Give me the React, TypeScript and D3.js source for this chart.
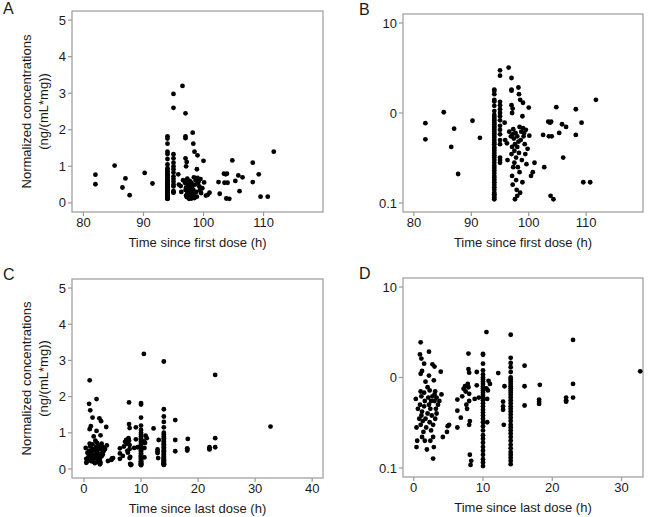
import React from "react";
import * as d3 from "d3";

// ---------- Data: time since first dose (panels A, B) ----------
const firstIsolated: [number, number][] = [
  [82, 0.77], [82, 0.51], [85.2, 1.02], [86.5, 0.42], [87, 0.67], [87.7, 0.21],
  [90.2, 0.82], [91.5, 0.53],
];
const firstCol94: number[] = [
  1.82, 1.76, 1.62, 1.4, 1.34, 1.2, 1.05, 0.95, 0.9, 0.86, 0.82, 0.78, 0.75, 0.71,
  0.68, 0.65, 0.62, 0.59, 0.56, 0.53, 0.5, 0.47, 0.45, 0.42, 0.4, 0.38, 0.36, 0.34,
  0.32, 0.3, 0.28, 0.26, 0.245, 0.23, 0.215, 0.2, 0.19, 0.18, 0.17, 0.16, 0.15,
  0.14, 0.13, 0.125, 0.12, 0.115, 0.11,
];
const firstCol95: number[] = [
  2.98, 2.6, 1.33, 1.22, 1.1, 1.0, 0.92, 0.83, 0.72, 0.65, 0.58, 0.5, 0.45, 0.32, 0.3, 0.28,
];
const firstCluster: [number, number][] = [
  [95.8, 0.78], [95.9, 0.5], [96.2, 0.46], [96.3, 0.3], [96.5, 3.2], [96.6, 0.62],
  [97, 2.45], [97, 1.82], [97, 1.77], [97, 1.22], [97.2, 1.12], [97.1, 1.0],
  [97.3, 0.66], [97.2, 0.58], [97.1, 0.42], [97.0, 0.35], [97.1, 0.2], [97.2, 0.16],
  [97.4, 0.52], [97.5, 0.38], [97.5, 0.28], [97.6, 0.45], [97.7, 0.6], [97.8, 0.32],
  [97.8, 0.18], [97.9, 0.14], [98.0, 0.55], [98.0, 0.42], [98.1, 0.25], [98.2, 1.92],
  [98.3, 1.62], [98.5, 1.4], [98.4, 0.7], [98.3, 0.36], [98.4, 0.22], [98.5, 0.13],
  [98.6, 0.5], [98.7, 0.62], [98.8, 0.3], [98.9, 0.92], [99, 1.3], [99.0, 0.68],
  [99.1, 0.55], [99.2, 0.6], [99.3, 0.45], [99.4, 0.35], [99.5, 0.65], [99.6, 0.27],
  [100, 1.15], [100.1, 0.56], [100.4, 0.2], [100.7, 0.22], [101, 0.28], [98.0, 0.12],
  [97.6, 0.11], [98.9, 0.17], [99.8, 0.4], [97.3, 0.25], [98.2, 0.48], [96.9, 0.55],
];
const firstLate: [number, number][] = [
  [102.5, 0.57], [102.7, 0.25], [103.4, 0.8], [103.7, 0.78], [103.9, 0.8], [103.5, 0.55],
  [104, 0.55], [103.8, 0.12], [104.3, 0.11], [104.8, 1.16], [105.3, 0.6], [105.8, 0.75],
  [106, 0.32], [106.5, 0.7], [108.2, 1.1], [108.2, 0.57], [109.2, 0.78], [109.5, 0.17],
  [110.7, 0.17], [111.7, 1.4],
];

// ---------- Data: time since last dose (panels C, D) ----------
const lastEarly: [number, number][] = [
  [0.3, 0.58], [0.4, 0.28], [0.4, 0.17], [0.6, 0.45], [0.8, 0.35], [1.0, 2.45],
  [0.9, 1.8], [1.1, 1.62], [1.0, 1.1], [1.2, 1.18], [1.0, 0.7], [1.1, 0.62], [0.9, 0.5],
  [1.2, 0.42], [1.1, 0.38], [1.3, 0.33], [1.0, 0.3], [1.4, 0.25], [1.2, 0.22],
  [1.5, 1.42], [1.5, 0.68], [1.6, 0.55], [1.5, 0.48], [1.7, 0.35], [1.6, 0.2],
  [1.8, 0.28], [1.9, 0.16], [2.0, 0.4], [2.1, 0.6], [2.2, 1.93], [2.2, 1.05],
  [2.3, 0.72], [2.2, 0.5], [2.4, 0.45], [2.3, 0.32], [2.5, 0.26], [2.4, 0.2],
  [2.5, 0.55], [2.6, 0.38], [2.7, 1.4], [2.7, 0.62], [2.8, 0.3], [2.8, 0.22],
  [2.9, 0.17], [2.8, 0.127], [2.9, 0.93], [3.0, 1.32], [3.0, 0.65], [3.1, 0.7],
  [3.0, 0.55], [3.2, 0.45], [3.1, 0.35], [3.3, 0.6], [3.3, 0.4], [3.5, 0.5],
  [3.7, 0.55], [3.9, 1.16], [4.0, 0.65], [4.2, 0.22], [4.8, 0.25], [4.9, 0.29],
  [5.1, 0.3], [0.5, 0.2], [1.7, 0.9], [2.0, 0.78],
];
const lastMid: [number, number][] = [
  [6.3, 0.57], [6.3, 0.43], [6.3, 0.28], [6.8, 0.36], [7.0, 0.62], [7.2, 0.75],
  [7.4, 0.8], [7.5, 0.7], [7.6, 0.5], [7.7, 0.45], [7.9, 1.84], [7.9, 1.24],
  [8.0, 1.13], [7.8, 0.85], [7.9, 0.78], [8.0, 0.66], [8.0, 0.55], [8.1, 0.33],
  [8.0, 0.3], [8.1, 0.14], [8.3, 0.12], [8.2, 0.108], [9.1, 1.15], [8.8, 0.58],
  [9.1, 0.82], [9.4, 0.6],
];
const lastCol10: number[] = [
  1.82, 1.78, 1.42, 1.2, 1.08, 1.0, 0.95, 0.9, 0.85, 0.8, 0.76, 0.72, 0.68, 0.64,
  0.6, 0.56, 0.52, 0.48, 0.44, 0.41, 0.38, 0.35, 0.32, 0.29, 0.26, 0.23, 0.21,
  0.19, 0.17, 0.155, 0.14, 0.125, 0.115, 0.105,
];
const lastNear10: [number, number][] = [
  [10.5, 3.18], [10.8, 0.92], [10.6, 0.58], [10.6, 0.32], [10.5, 0.76], [10.7, 0.72],
  [11.0, 0.85], [12.2, 1.12], [12.9, 0.54], [12.9, 0.48], [12.9, 0.44], [13.0, 0.3],
  [13.1, 0.8],
];
const lastCol14: number[] = [
  2.97, 1.65, 1.45, 1.3, 1.15, 1.0, 0.95, 0.9, 0.85, 0.8, 0.76, 0.72, 0.68, 0.64,
  0.6, 0.56, 0.52, 0.48, 0.45, 0.42, 0.39, 0.36, 0.33, 0.3, 0.28, 0.26, 0.24, 0.22,
  0.2, 0.18, 0.165, 0.15, 0.14, 0.13, 0.12, 0.11,
];
const lastLate: [number, number][] = [
  [16, 1.35], [16, 0.8], [16, 0.49], [18.2, 0.83], [18.1, 0.57], [18.1, 0.54],
  [18.1, 0.51], [22, 0.6], [22, 0.56], [22, 0.54], [23, 2.6], [23, 0.85], [23, 0.6],
  [32.7, 1.17],
];

// ---------- Axis ticks ----------
const linearTicks = [0, 1, 2, 3, 4, 5];
const logTicks = [0.1, 1, 10];
const logTickLabels = ["0.1", "0", "10"];
const firstDoseTicks = [80, 90, 100, 110];
const lastDoseTicksC = [0, 10, 20, 30, 40];
const lastDoseTicksD = [0, 10, 20, 30];

const firstDosePoints: [number, number][] = [
  ...firstIsolated,
  ...firstCol94.map((c) => [94, c] as [number, number]),
  ...firstCol95.map((c) => [95, c] as [number, number]),
  ...firstCluster,
  ...firstLate,
];
const lastDosePoints: [number, number][] = [
  ...lastEarly,
  ...lastMid,
  ...lastCol10.map((c) => [10, c] as [number, number]),
  ...lastNear10,
  ...lastCol14.map((c) => [14, c] as [number, number]),
  ...lastLate,
];

const FONT = "'Liberation Sans', Arial, Helvetica, sans-serif";
const BORDER = "#9a9a9a";
const TEXT = "#1a1a1a";

type PanelProps = {
  letter: string;
  letterX: number;
  letterY: number;
  box: { x0: number; x1: number; y0: number; y1: number };
  xDomain: [number, number];
  xTicks: number[];
  log: boolean;
  points: [number, number][];
  xTitle: string;
  yTitle: boolean;
};

function Panel(p: PanelProps) {
  const { box } = p;
  const x = d3.scaleLinear().domain(p.xDomain).range([box.x0, box.x1]);
  const y = p.log
    ? d3.scaleLog().domain([Math.pow(10, -1.1), Math.pow(10, 1.1)]).range([box.y1, box.y0])
    : d3.scaleLinear().domain([-0.25, 5.25]).range([box.y1, box.y0]);
  const yTicks = p.log ? logTicks : linearTicks;
  const yLabels = p.log ? logTickLabels : linearTicks.map((v) => String(v));
  const cx = (box.x0 + box.x1) / 2;
  const cy = (box.y0 + box.y1) / 2;
  return (
    <g fontFamily={FONT}>
      <text x={p.letterX} y={p.letterY} fontSize={16} fill={TEXT}>{p.letter}</text>
      <rect x={box.x0} y={box.y0} width={box.x1 - box.x0} height={box.y1 - box.y0}
        fill="white" stroke={BORDER} strokeWidth={1.2} />
      {yTicks.map((v, i) => (
        <g key={"y" + i}>
          <line x1={box.x0 - 4} x2={box.x0} y1={y(v)} y2={y(v)} stroke={BORDER} strokeWidth={1.2} />
          <text x={box.x0 - 6} y={y(v)} dy="0.35em" textAnchor="end" fontSize={13} fill={TEXT}>
            {yLabels[i]}
          </text>
        </g>
      ))}
      {p.xTicks.map((v) => (
        <g key={"x" + v}>
          <line x1={x(v)} x2={x(v)} y1={box.y1} y2={box.y1 + 4} stroke={BORDER} strokeWidth={1.2} />
          <text x={x(v)} y={box.y1 + 15} textAnchor="middle" fontSize={13} fill={TEXT}>{v}</text>
        </g>
      ))}
      <text x={cx} y={box.y1 + 35} textAnchor="middle" fontSize={13} fill={TEXT}>{p.xTitle}</text>
      {p.yTitle && (
        <g>
          <text transform={`translate(${26 + 4.5},${cy}) rotate(-90)`} textAnchor="middle" fontSize={13} fill={TEXT}>
            Normalized concentrations
          </text>
          <text transform={`translate(${43 + 4.5},${cy}) rotate(-90)`} textAnchor="middle" fontSize={13} fill={TEXT}>
            (ng/(mL*mg))
          </text>
        </g>
      )}
      {p.points.map((d, i) => (
        <circle key={i} cx={x(d[0])} cy={y(d[1])} r={2.4} fill="#000" />
      ))}
    </g>
  );
}

export default function App() {
  return (
    <svg width={650} height={517} style={{ position: "absolute", left: 0, top: 0, background: "white" }}>
      <rect width={650} height={517} fill="white" />
      <Panel letter="A" letterX={3} letterY={14} box={{ x0: 72, x1: 323, y0: 11, y1: 212 }}
        xDomain={[78.1, 119.9]} xTicks={firstDoseTicks} log={false} points={firstDosePoints}
        xTitle="Time since first dose (h)" yTitle={true} />
      <Panel letter="B" letterX={359} letterY={15} box={{ x0: 403, x1: 643, y0: 14, y1: 212 }}
        xDomain={[78.1, 119.9]} xTicks={firstDoseTicks} log={true} points={firstDosePoints}
        xTitle="Time since first dose (h)" yTitle={false} />
      <Panel letter="C" letterX={3} letterY={280} box={{ x0: 72, x1: 323, y0: 279, y1: 478 }}
        xDomain={[-2.1, 41.9]} xTicks={lastDoseTicksC} log={false} points={lastDosePoints}
        xTitle="Time since last dose (h)" yTitle={true} />
      <Panel letter="D" letterX={359} letterY={279} box={{ x0: 403, x1: 643, y0: 278, y1: 477 }}
        xDomain={[-1.55, 33.1]} xTicks={lastDoseTicksD} log={true} points={lastDosePoints}
        xTitle="Time since last dose (h)" yTitle={false} />
    </svg>
  );
}
